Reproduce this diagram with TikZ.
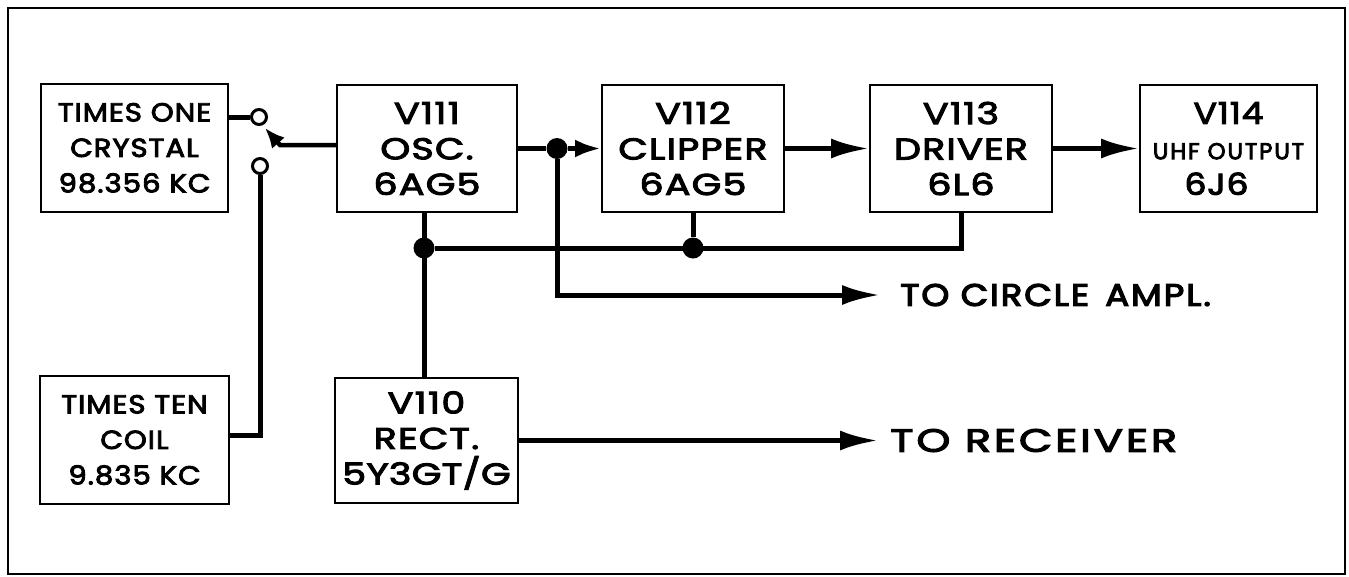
\documentclass[tikz,border=0pt]{standalone}
\usepackage{fontspec}
\setmainfont{Poppins}
\usetikzlibrary{arrows.meta,calc}
\tikzset{
  blk/.style={draw, line width=2pt, minimum width=#1, align=center, inner sep=0pt,
    font=\fontsize{30}{35.5}\selectfont\addfontfeatures{FakeStretch=1.27,FakeBold=3.5,LetterSpace=4}},
  tblk/.style={blk=#1, font=\fontsize{26}{35.5}\selectfont\addfontfeatures{FakeStretch=1.12,FakeBold=3.5,LetterSpace=4}},
  wire/.style={line width=5pt},
  sig/.style={line width=5pt, -{Latex[length=38pt,width=20pt]}},
  dot/.style={circle, fill=black, inner sep=0pt, minimum size=21pt},
  contact/.style={circle, draw, fill=white, line width=3pt, inner sep=0pt, minimum size=15pt},
  lbl/.style={anchor=west, inner sep=0pt, font=\fontsize{31}{36}\selectfont\addfontfeatures{FakeStretch=1.15,FakeBold=4,LetterSpace=6}}
}
\begin{document}
\begin{tikzpicture}[x=1pt,y=-1pt]
\useasboundingbox (0,0) rectangle (1349,576);
\draw[line width=2pt] (8,8) rectangle (1345,574);

% blocks
\node[tblk=187pt, minimum height=128pt] (t1) at (134.5,148) {TIMES ONE\\CRYSTAL\\98.356 KC};
\node[tblk=189pt, minimum height=128pt] (t10) at (134.5,440) {TIMES TEN\\COIL\\9.835 KC};
\node[blk=180pt, minimum height=127pt] (v111) at (427,148.5) {V111\\OSC.\\6AG5};
\node[blk=183pt, minimum height=125pt] (v110) at (426.5,440.5) {V110\\RECT.\\{\addfontfeatures{LetterSpace=1}5Y3GT/G}};
\node[blk=182pt, minimum height=127pt] (v112) at (693,148.5) {V112\\CLIPPER\\6AG5};
\node[blk=182pt, minimum height=127pt] (v113) at (961,148.5) {V113\\DRIVER\\6L6};
\node[blk=177pt, minimum height=127pt, font=\fontsize{30}{35.5}\selectfont\addfontfeatures{FakeStretch=1.15,FakeBold=3.5,LetterSpace=3}] (v114) at (1228.5,148.5)
  {V114\\{\fontsize{23}{35.5}\selectfont\addfontfeatures{FakeStretch=1,FakeBold=3.5,LetterSpace=8}UHF OUTPUT}\\\hspace*{-24pt}6J6};

% switch
\node[contact] (c1) at (259,117) {};
\node[contact] (c2) at (260,166) {};
\coordinate (w1) at (280,145);
\coordinate (wt) at (265,128);
\coordinate (k2) at (260,435);
\draw[wire] (t1.east |- c1) -- (c1.west);
\draw[wire] (t10.east |- k2) -- (k2) -- (c2.south);
\draw[line width=4.5pt, -{Latex[length=20pt,width=17pt]}] (v111.west |- w1) -- (w1) -- (wt);

% signal chain
\node[dot] (j1) at (557,148.5) {};
\draw[wire] (v111.east) -- (j1);
\draw[sig, -{Latex[length=26pt,width=18pt]}] (j1) -- (v112.west);
\draw[sig] (v112.east) -- (v113.west);
\draw[sig] (v113.east) -- (v114.west);

% to circle ampl
\coordinate (b1) at (557,295);
\coordinate (ca) at (880,295);
\draw[sig] (j1) -- (b1) -- (ca);
\node[lbl] (tca) at (900,295) {TO CIRCLE\hspace{16pt}AMPL.};

% bus
\node[dot] (j0) at (424,248) {};
\node[dot] (j2) at (v112.south |- j0) {};
\draw[wire] (j0 |- v111.south) -- (j0 |- v110.north);
\draw[wire] (j0) -- (v113.south |- j0) -- (v113.south);
\draw[wire] (v112.south) -- (j2);

% to receiver
\coordinate (cr) at (878,440.5);
\draw[sig] (v110.east) -- (cr);
\node[lbl, font=\fontsize{32}{36}\selectfont\addfontfeatures{FakeStretch=1.35,FakeBold=4,LetterSpace=9}] (trc) at (890,440.5) {TO RECEIVER};
\end{tikzpicture}
\end{document}
